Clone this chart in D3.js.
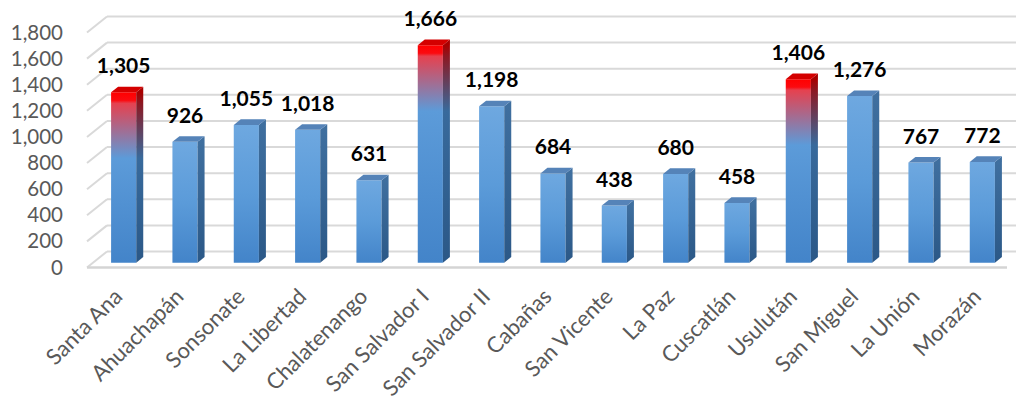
<!DOCTYPE html>
<html>
<head>
<meta charset="utf-8">
<script src="https://cdn.jsdelivr.net/npm/d3@7"></script>
<style>
  body { margin: 0; background: #fff; }
  svg { display: block; }
</style>
</head>
<body>
<script>
const categories = ['Santa Ana', 'Ahuachapán', 'Sonsonate', 'La Libertad', 'Chalatenango',
    'San Salvador I', 'San Salvador II', 'Cabañas', 'San Vicente', 'La Paz',
    'Cuscatlán', 'Usulután', 'San Miguel', 'La Unión', 'Morazán'];
const values = [1305, 926, 1055, 1018, 631, 1666, 1198, 684, 438, 680, 458, 1406, 1276, 767, 772];
const highlighted = ['Santa Ana', 'San Salvador I', 'Usulután'];
const yTicks = [0, 200, 400, 600, 800, 1000, 1200, 1400, 1600, 1800];

const width = 1016, height = 402;
// depth of the floor (back wall offset)
const depthX = 20, depthY = -16;
// bars sit between these depth fractions
const f0 = 0.3, f1 = 0.65;

const svg = d3.select('body').append('svg')
    .attr('width', width)
    .attr('height', height);

const x = d3.scaleBand()
    .domain(categories)
    .range([87, 1007]);

const y = d3.scaleLinear()
    .domain([0, 1800])
    .range([267.5, 32.5]);

const defs = svg.append('defs');

// gridlines: left wall diagonals + back wall horizontals
const grid = svg.append('g');
grid.selectAll('line.back')
    .data(yTicks)
    .enter()
    .append('line')
    .attr('x1', 87 + depthX)
    .attr('x2', width + 20)
    .attr('y1', d => y(d) + depthY)
    .attr('y2', d => y(d) + depthY)
    .attr('stroke', '#d9d9d9')
    .attr('stroke-width', 2);
grid.selectAll('line.side')
    .data(yTicks)
    .enter()
    .append('line')
    .attr('x1', 87)
    .attr('x2', 87 + depthX)
    .attr('y1', d => y(d))
    .attr('y2', d => y(d) + depthY)
    .attr('stroke', '#d9d9d9')
    .attr('stroke-width', 2);
// floor front edge
grid.append('line')
    .attr('x1', 87).attr('x2', 1007)
    .attr('y1', y(0)).attr('y2', y(0))
    .attr('stroke', '#d4d4d4')
    .attr('stroke-width', 2.5);

// y axis
const yAxis = svg.append('g')
    .attr('transform', 'translate(66,0)')
    .call(d3.axisLeft(y).tickValues(yTicks).tickFormat(d3.format(',')).tickSize(0).tickPadding(3));
yAxis.select('.domain').remove();
yAxis.selectAll('text')
    .attr('font-family', 'Lato, sans-serif')
    .attr('font-size', '20.5px')
    .attr('fill', '#595959');

const bw = x.bandwidth() * 0.41;
const ox0 = depthX * f0, oy0 = depthY * f0;
const dx = depthX * (f1 - f0), dy = depthY * (f1 - f0);

const bars = categories.map((c, i) => {
    const xl = x(c) + x.bandwidth() / 2 - bw / 2 + ox0;
    return {
        name: c,
        value: values[i],
        red: highlighted.includes(c),
        xl: xl,
        xr: xl + bw,
        yt: y(values[i]) + oy0,
        yb: y(0) + oy0,
        i: i
    };
});

// gradients
bars.forEach(b => {
    const front = defs.append('linearGradient')
        .attr('id', 'front' + b.i)
        .attr('gradientUnits', 'userSpaceOnUse')
        .attr('x1', 0).attr('x2', 0)
        .attr('y1', b.yt).attr('y2', b.yb);
    const side = defs.append('linearGradient')
        .attr('id', 'side' + b.i)
        .attr('gradientUnits', 'userSpaceOnUse')
        .attr('x1', 0).attr('x2', 0)
        .attr('y1', b.yt).attr('y2', b.yb);
    const h = b.yb - b.yt;
    if (b.red) {
        const s1 = 8 / h, s2 = 11 / h, s3 = 66 / h;
        front.append('stop').attr('offset', 0).attr('stop-color', '#ff0000');
        front.append('stop').attr('offset', s1).attr('stop-color', '#fb0a10');
        front.append('stop').attr('offset', s2).attr('stop-color', '#e6414f');
        front.append('stop').attr('offset', s3).attr('stop-color', '#5c9bd9');
        front.append('stop').attr('offset', 1).attr('stop-color', '#4384c9');
        side.append('stop').attr('offset', 0).attr('stop-color', '#a80000');
        side.append('stop').attr('offset', s2).attr('stop-color', '#8c1822');
        side.append('stop').attr('offset', s3).attr('stop-color', '#386a9c');
        side.append('stop').attr('offset', 1).attr('stop-color', '#2b5887');
    } else {
        front.append('stop').attr('offset', 0).attr('stop-color', '#6ea8e0');
        front.append('stop').attr('offset', 0.5).attr('stop-color', '#5b9bd9');
        front.append('stop').attr('offset', 1).attr('stop-color', '#4384c9');
        side.append('stop').attr('offset', 0).attr('stop-color', '#3f6f9f');
        side.append('stop').attr('offset', 1).attr('stop-color', '#2b5887');
    }
});

const g = svg.append('g');
const barG = g.selectAll('g.bar')
    .data(bars)
    .enter()
    .append('g')
    .attr('class', 'bar');

barG.append('path')
    .attr('d', b => `M${b.xl},${b.yt}L${b.xr},${b.yt}L${b.xr},${b.yb}L${b.xl},${b.yb}Z`)
    .attr('fill', b => `url(#front${b.i})`);
barG.append('path')
    .attr('d', b => `M${b.xr},${b.yt}L${b.xr + dx},${b.yt + dy}L${b.xr + dx},${b.yb + dy}L${b.xr},${b.yb}Z`)
    .attr('fill', b => `url(#side${b.i})`);
barG.append('path')
    .attr('d', b => `M${b.xl},${b.yt}L${b.xl + dx},${b.yt + dy}L${b.xr + dx},${b.yt + dy}L${b.xr},${b.yt}Z`)
    .attr('fill', b => b.red ? '#d40000' : '#5583b8');

// value labels
svg.selectAll('text.val')
    .data(bars)
    .enter()
    .append('text')
    .attr('class', 'val')
    .attr('x', b => (b.xl + b.xr) / 2)
    .attr('y', b => b.yt - 19)
    .attr('text-anchor', 'middle')
    .attr('font-family', 'Lato, sans-serif')
    .attr('font-weight', 'bold')
    .attr('font-size', '21px')
    .attr('fill', '#000')
    .text(b => d3.format(',')(b.value));

// category labels
svg.selectAll('text.cat')
    .data(bars)
    .enter()
    .append('text')
    .attr('class', 'cat')
    .attr('transform', b => `translate(${(b.xl + b.xr) / 2},298) rotate(-45)`)
    .attr('text-anchor', 'end')
    .attr('font-family', 'Lato, sans-serif')
    .attr('font-size', '22px')
    .attr('fill', '#595959')
    .text(b => b.name);
</script>
</body>
</html>
